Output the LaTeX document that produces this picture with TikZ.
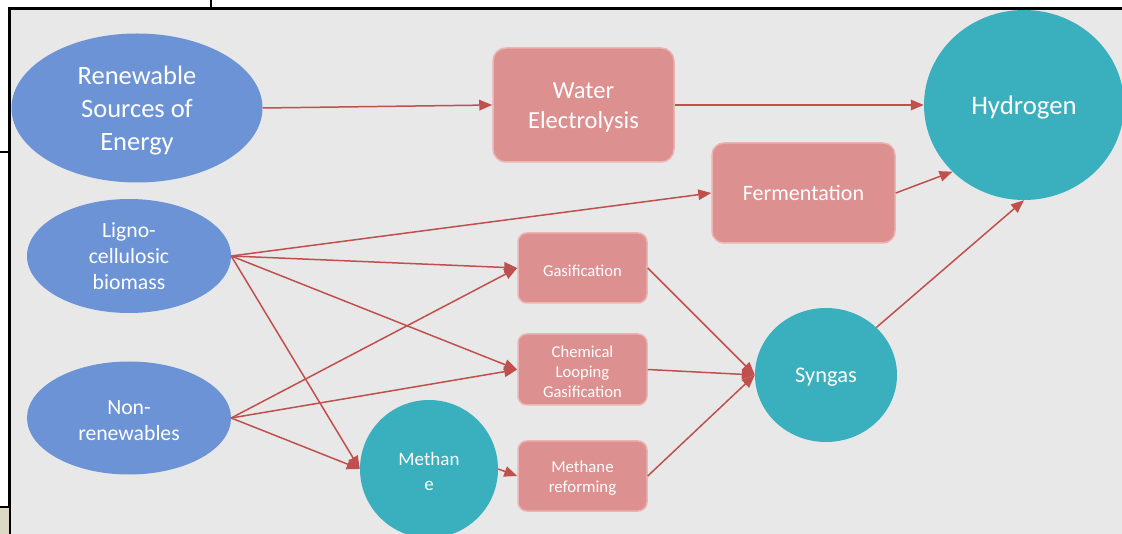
\documentclass[tikz,border=0pt]{standalone}
\usepackage{fontspec}
\setmainfont{Carlito}
\usetikzlibrary{shapes.geometric,arrows.meta}
\definecolor{bg}{HTML}{E8E8E8}
\definecolor{blu}{HTML}{6B93D6}
\definecolor{tea}{HTML}{3AAFBD}
\definecolor{pnk}{HTML}{DC908F}
\definecolor{pnkb}{HTML}{EBB3B2}
\definecolor{arr}{HTML}{C0504D}
\definecolor{beige}{HTML}{DDD8C4}
\newcommand\dn[1]{\raisebox{-2.5pt}[\height][\depth]{#1}}
\begin{document}
\begin{tikzpicture}[x=1pt,y=-1pt,
  blob/.style={ellipse,fill=blu,text=white,inner sep=0pt,align=center},
  circ/.style={ellipse,fill=tea,text=white,inner sep=0pt,align=center},
  box/.style={rectangle,fill=pnk,draw=pnkb,line width=1.5pt,text=white,inner sep=0pt,align=center},
  link/.style={draw=arr,line width=1.5pt,-{Triangle[length=13pt,width=10.5pt]}}]
\clip (0,0) rectangle (1122,534);
\fill[white] (0,0) rectangle (1122,534);
\fill[bg] (9,9) rectangle (1122,534);
\draw[line width=3pt] (1122,9) -- (9,9) -- (9,534);
\draw[line width=2pt] (211,0) -- (211,9);
\draw[line width=2pt] (0,152) -- (9,152);
\fill[beige] (0,507) rectangle (9,534);
\draw[line width=2pt] (0,507) -- (9,507);

\node[blob,minimum width=251pt,minimum height=149pt,font=\fontsize{26.5}{33}\selectfont] (ren) at (137,108) {\dn{Renewable}\\\dn{Sources of}\\\dn{Energy}};
\node[blob,minimum width=204pt,minimum height=114pt,font=\fontsize{21.7}{26}\selectfont] (lig) at (129,256) {Ligno-\\cellulosic\\biomass};
\node[blob,minimum width=204pt,minimum height=113pt,font=\fontsize{21.7}{26}\selectfont] (non) at (129,418) {\dn{Non-}\\\dn{renewables}};

\node[box,rounded corners=13pt,minimum width=181pt,minimum height=114pt,font=\fontsize{24.5}{30}\selectfont] (we) at (583.5,105) {\dn{Water}\\\dn{Electrolysis}};
\node[box,rounded corners=12pt,minimum width=183pt,minimum height=100pt,font=\fontsize{22}{26}\selectfont] (fer) at (803.5,193) {Fermentation};
\node[box,rounded corners=9pt,minimum width=129pt,minimum height=70pt,font=\fontsize{16.6}{20}\selectfont] (gas) at (582.5,268) {\dn{Gasification}};
\node[box,rounded corners=9pt,minimum width=129pt,minimum height=71pt,font=\fontsize{16.6}{20}\selectfont] (clg) at (582.5,369.5) {\dn{Chemical}\\\dn{Looping}\\\dn{Gasification}};
\node[box,rounded corners=9pt,minimum width=129pt,minimum height=70pt,font=\fontsize{16.8}{20}\selectfont] (mr) at (582.5,476) {\dn{Methane}\\\dn{reforming}};

\node[circ,minimum width=200pt,minimum height=190pt,font=\fontsize{26.8}{30}\selectfont] (h) at (1024,105) {\dn{Hydrogen}};
\node[circ,minimum width=142pt,minimum height=134pt,font=\fontsize{22.4}{26}\selectfont] (syn) at (826,375) {\dn{Syngas}};
\node[circ,minimum width=138pt,minimum height=138pt,font=\fontsize{19}{25}\selectfont] (meth) at (429,469) {\dn{Methan}\\\dn{e}};

\draw[link] (ren.east) -- (we.west);
\draw[link] (we.east) -- (h.west);
\draw[link] (lig.east) -- (fer.west);
\draw[link] (fer.east) -- (h.223);
\draw[link] (lig.east) -- (gas.west);
\draw[link] (lig.east) -- (clg.west);
\draw[link] (lig.east) -- (meth.west);
\draw[link] (non.east) -- (gas.west);
\draw[link] (non.east) -- (clg.west);
\draw[link] (non.east) -- (meth.west);
\draw[link] (meth.east) -- (mr.west);
\draw[link] (gas.east) -- (syn.west);
\draw[link] (clg.east) -- (syn.west);
\draw[link] (mr.east) -- (syn.west);
\draw[link] (syn.north east) -- (h.south);
\end{tikzpicture}
\end{document}
